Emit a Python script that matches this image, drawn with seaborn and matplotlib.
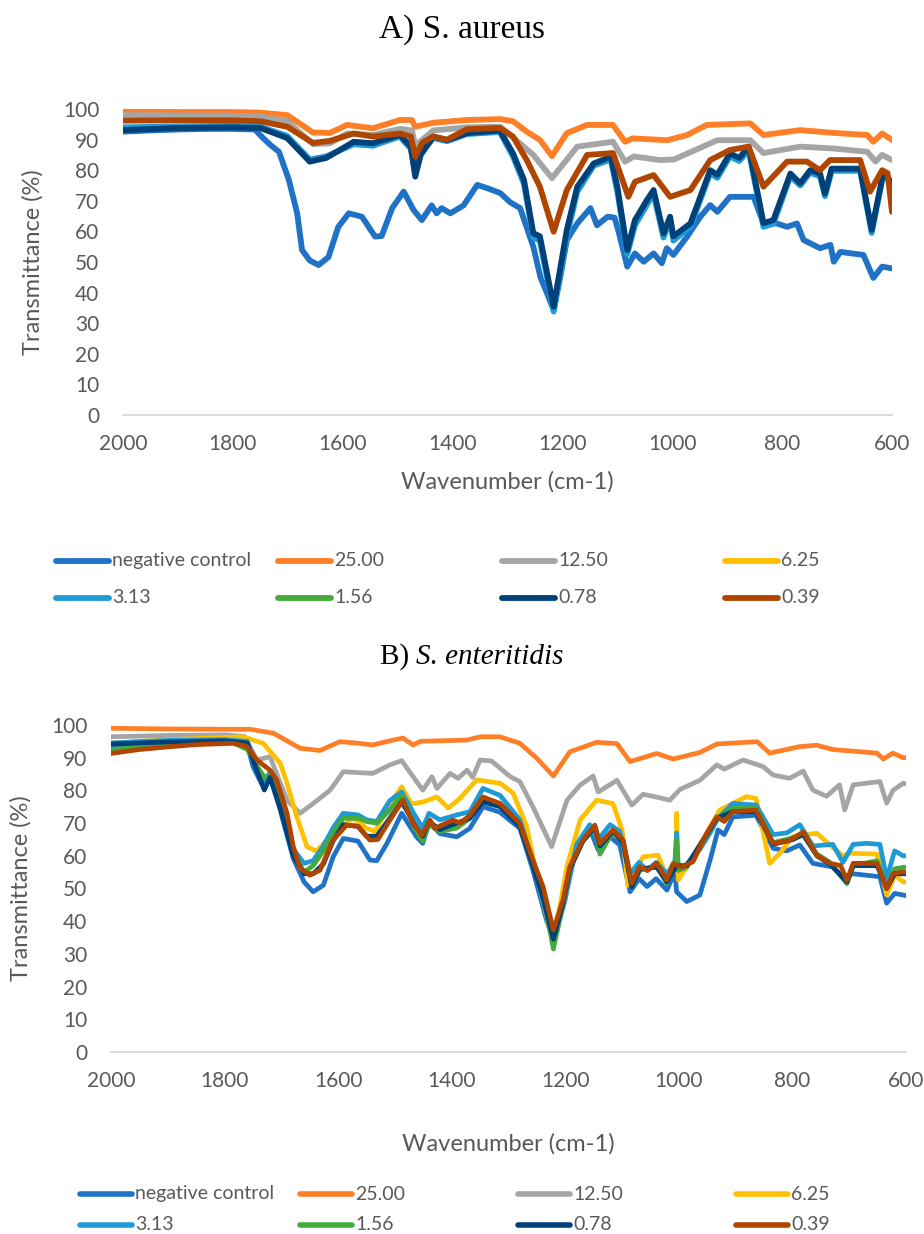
import matplotlib
matplotlib.use("Agg")
import matplotlib.pyplot as plt
from matplotlib.lines import Line2D
import seaborn as sns
import pandas as pd

# ---------------------------------------------------------------- data
LABELS = ["negative control", "25.00", "12.50", "6.25", "3.13", "1.56", "0.78", "0.39"]
COLORS = {
    "negative control": "#1F72C6",
    "25.00": "#FF7F27",
    "12.50": "#A5A5A5",
    "6.25": "#FFC000",
    "3.13": "#1E9BD7",
    "1.56": "#44AA3C",
    "0.78": "#00417A",
    "0.39": "#B04500",
}
X_TICKS = [2000, 1800, 1600, 1400, 1200, 1000, 800, 600]
Y_TICKS = [0, 10, 20, 30, 40, 50, 60, 70, 80, 90, 100]

# A) S. aureus  (wavenumber, transmittance)
a_neg_w = [2000, 1950, 1900, 1850, 1800, 1760, 1745, 1730, 1716, 1698, 1683, 1674, 1660, 1644, 1626,
           1608, 1589, 1565, 1541, 1529, 1510, 1489, 1480, 1471, 1456, 1438, 1429, 1420, 1404, 1380,
           1355, 1335, 1313, 1295, 1277, 1253, 1240, 1228, 1216, 1204, 1192, 1173, 1149, 1137, 1118,
           1105, 1097, 1082, 1068, 1052, 1034, 1019, 1010, 998, 973, 949, 931, 918, 895, 852, 834,
           810, 791, 773, 761, 731, 712, 706, 694, 652, 634, 618, 600]
a_neg_t = [92.6, 93.0, 93.3, 93.5, 93.5, 93.3, 90.5, 88.0, 86.0, 76.8, 66.0, 53.9, 50.5, 49.0, 51.6,
           61.5, 65.9, 64.8, 58.3, 58.5, 67.6, 73.0, 70.0, 67.0, 63.7, 68.5, 65.9, 67.6, 65.9, 68.5,
           75.2, 74.0, 72.5, 69.5, 67.6, 55.0, 45.0, 39.8, 34.3, 45.0, 57.2, 62.6, 67.6, 62.0, 64.8,
           64.5, 59.4, 48.5, 52.8, 50.1, 52.8, 49.6, 54.5, 52.3, 58.3, 64.8, 68.6, 66.4, 71.3, 71.3, 62.6,
           62.6, 61.5, 62.6, 57.2, 54.5, 55.6, 50.1, 53.3, 52.3, 44.8, 48.5, 47.9]

a_250_w = [2000, 1900, 1800, 1750, 1701, 1654, 1623, 1592, 1545, 1496, 1474, 1468, 1435, 1374, 1313,
           1290, 1265, 1241, 1219, 1192, 1155, 1108, 1086, 1072, 1009, 973, 937, 858, 834, 767, 707,
           645, 634, 618, 600]
a_250_t = [99.1, 99.0, 99.0, 98.8, 98.0, 92.3, 92.2, 94.8, 93.7, 96.4, 96.4, 94.2, 95.5, 96.4, 96.7,
           96.0, 92.6, 89.9, 84.6, 92.1, 94.8, 94.8, 89.3, 90.4, 89.8, 91.5, 94.8, 95.3, 91.5, 93.1, 92.2,
           91.5, 89.3, 92.0, 89.9]

a_125_w = [2000, 1900, 1800, 1750, 1701, 1654, 1623, 1592, 1545, 1496, 1474, 1468, 1435, 1374, 1313,
           1253, 1219, 1173, 1108, 1086, 1070, 1022, 997, 918, 858, 834, 767, 707, 645, 630, 618, 600]
a_125_t = [98.0, 97.9, 97.8, 97.5, 96.0, 88.5, 88.8, 92.0, 91.5, 93.5, 93.0, 88.0, 93.0, 94.0, 94.2,
           85.0, 77.4, 87.7, 89.3, 82.8, 84.5, 83.3, 83.5, 89.8, 89.8, 85.6, 87.7, 87.1, 86.0, 82.8, 85.0, 83.3]

a_313_w = [2000, 1900, 1800, 1750, 1701, 1660, 1630, 1580, 1545, 1496, 1476, 1468, 1458, 1435, 1410,
           1374, 1314, 1290, 1270, 1253, 1241, 1216, 1192, 1173, 1143, 1112, 1100, 1082, 1068, 1046,
           1034, 1016, 1004, 998, 967, 931, 918, 895, 878, 861, 834, 816, 785, 767, 749, 731, 722, 710,
           658, 637, 616, 605, 600]
a_313_t = [94.0, 94.3, 94.5, 94.2, 91.2, 83.5, 84.5, 88.5, 88.0, 91.0, 87.0, 79.0, 85.5, 90.5, 89.5,
           91.8, 92.5, 84.5, 75.5, 58.0, 57.0, 33.8, 58.5, 73.0, 81.5, 83.5, 73.0, 52.5, 62.0, 68.8,
           72.2, 58.0, 63.5, 57.0, 61.5, 79.0, 77.5, 84.5, 83.0, 86.5, 61.5, 62.5, 78.0, 75.0, 79.2, 78.0,
           71.5, 79.8, 79.8, 59.5, 78.5, 76.5, 75.5]

a_078_w = [2000, 1900, 1800, 1750, 1701, 1660, 1630, 1580, 1545, 1496, 1476, 1468, 1458, 1435, 1410,
           1374, 1314, 1290, 1270, 1253, 1241, 1216, 1192, 1173, 1143, 1112, 1100, 1082, 1068, 1046,
           1034, 1016, 1004, 998, 967, 931, 918, 895, 878, 861, 834, 816, 785, 767, 749, 731, 722, 710,
           658, 637, 616, 605, 600]
a_078_t = [93.1, 93.8, 94.0, 93.8, 90.5, 82.8, 84.0, 89.3, 88.8, 91.5, 87.7, 77.9, 85.0, 91.0, 89.8,
           92.1, 93.0, 85.5, 76.8, 59.4, 58.4, 35.4, 60.5, 74.6, 82.2, 84.4, 74.6, 53.9, 63.7, 70.3,
           73.5, 59.4, 64.8, 58.4, 62.6, 80.0, 78.5, 85.5, 84.0, 87.7, 62.7, 63.7, 78.9, 75.7, 80.0, 78.9,
           72.4, 80.5, 80.5, 60.5, 79.0, 77.0, 76.0]

a_039_w = [2000, 1900, 1800, 1750, 1701, 1654, 1623, 1580, 1545, 1496, 1476, 1468, 1455, 1435, 1410,
           1374, 1314, 1290, 1265, 1241, 1216, 1192, 1155, 1108, 1080, 1068, 1034, 1004, 967, 931, 895,
           861, 834, 791, 755, 731, 713, 658, 640, 618, 608, 600]
a_039_t = [96.2, 96.3, 96.3, 96.0, 94.2, 88.9, 89.6, 92.0, 91.0, 92.0, 91.0, 84.4, 89.0, 91.0, 90.0,
           93.4, 93.8, 91.0, 83.3, 74.6, 59.9, 73.5, 85.0, 85.6, 71.3, 76.2, 78.4, 71.3, 73.5, 83.3, 86.6,
           87.7, 74.6, 82.8, 82.8, 80.0, 83.3, 83.3, 73.0, 80.0, 79.0, 66.4]

# B) S. enteritidis  (wavenumber, transmittance)
b_neg_w = [2000, 1900, 1800, 1785, 1760, 1750, 1732, 1720, 1702, 1679, 1660, 1644, 1626, 1609, 1591,
           1565, 1544, 1532, 1514, 1488, 1462, 1451, 1440, 1421, 1391, 1368, 1345, 1315, 1280, 1257,
           1233, 1221, 1201, 1180, 1157, 1142, 1121, 1104, 1086, 1070, 1056, 1040, 1021, 1007, 1004, 986,
           963, 945, 931, 920, 905, 864, 834, 810, 787, 764, 729, 711, 693, 646, 634, 620, 605, 600]
b_neg_t = [93.4, 94.3, 95.0, 95.0, 94.0, 87.3, 81.1, 84.4, 74.0, 59.2, 52.0, 49.0, 51.0, 59.6, 65.3,
           64.5, 58.7, 58.5, 63.8, 73.0, 65.8, 63.8, 70.4, 66.8, 65.8, 68.4, 75.0, 73.3, 68.4, 55.6,
           40.3, 34.3, 47.6, 62.8, 68.4, 61.8, 65.8, 63.3, 49.0, 53.0, 50.6, 53.0, 49.5, 55.1, 49.0, 46.0,
           48.0, 58.7, 67.9, 66.5, 71.9, 72.4, 62.3, 61.5, 63.3, 57.7, 56.6, 53.6, 54.5, 53.6, 45.5, 48.5,
           48.0, 47.8]

b_250_w = [2000, 1900, 1800, 1755, 1714, 1667, 1632, 1597, 1570, 1539, 1503, 1486, 1468, 1455, 1373,
           1350, 1315, 1280, 1250, 1221, 1192, 1145, 1109, 1086, 1039, 1010, 963, 933, 862, 840, 787,
           757, 729, 651, 640, 623, 605, 600]
b_250_t = [99.0, 98.8, 98.7, 98.7, 97.5, 92.9, 92.2, 94.9, 94.5, 93.9, 95.4, 96.0, 93.9, 95.0, 95.4,
           96.4, 96.4, 94.4, 89.8, 84.4, 91.8, 94.7, 94.3, 88.8, 91.3, 89.6, 91.6, 94.2, 94.9, 91.4, 93.4,
           93.8, 92.5, 91.4, 89.6, 91.4, 90.0, 90.0]

b_125_w = [2000, 1900, 1800, 1765, 1743, 1720, 1690, 1667, 1644, 1614, 1591, 1539, 1509, 1488, 1468,
           1451, 1435, 1426, 1403, 1389, 1373, 1363, 1350, 1330, 1297, 1280, 1257, 1224, 1197, 1174,
           1151, 1142, 1109, 1083, 1063, 1040, 1016, 998, 963, 933, 920, 887, 852, 834, 805, 781, 764,
           740, 717, 708, 693, 646, 634, 623, 605, 600]
b_125_t = [96.4, 96.8, 97.0, 96.5, 89.3, 90.3, 77.0, 73.0, 76.0, 80.1, 85.7, 85.2, 87.8, 89.1, 84.2,
           80.1, 84.2, 80.6, 85.2, 83.7, 86.2, 84.0, 89.3, 89.0, 84.2, 82.7, 75.0, 62.8, 77.0, 81.6,
           84.4, 79.5, 83.1, 75.5, 78.8, 78.0, 77.0, 80.3, 83.1, 87.8, 86.5, 89.3, 87.3, 84.7, 83.7, 85.9,
           80.1, 78.2, 81.7, 74.0, 81.7, 82.7, 76.1, 80.0, 82.2, 82.0]

b_625_w = [2000, 1900, 1800, 1767, 1732, 1702, 1690, 1673, 1655, 1638, 1609, 1574, 1550, 1535, 1509,
           1488, 1471, 1450, 1426, 1406, 1386, 1356, 1315, 1292, 1268, 1250, 1221, 1197, 1174, 1145,
           1116, 1100, 1090, 1063, 1037, 1021, 1005, 1004, 1001, 986, 951, 928, 881, 864, 840, 822, 799,
           757, 734, 711, 699, 651, 634, 620, 605, 600]
b_625_t = [94.4, 95.5, 96.2, 96.4, 94.4, 88.3, 82.2, 72.0, 62.8, 61.4, 66.9, 71.5, 68.4, 67.5, 75.9,
           81.1, 75.9, 76.5, 78.0, 74.6, 77.5, 83.2, 82.2, 79.2, 69.0, 53.6, 33.2, 56.7, 70.9, 77.0,
           76.0, 67.9, 51.0, 59.7, 60.2, 53.6, 56.0, 73.0, 52.6, 56.7, 66.9, 74.0, 78.1, 77.5, 57.7, 60.8,
           65.9, 66.9, 63.3, 60.0, 60.8, 60.5, 48.0, 54.0, 52.0, 52.0]

b_313_w = [2000, 1900, 1800, 1760, 1745, 1730, 1720, 1702, 1679, 1660, 1644, 1626, 1609, 1591, 1565,
           1550, 1532, 1509, 1488, 1465, 1451, 1440, 1421, 1391, 1368, 1345, 1315, 1280, 1257, 1233,
           1221, 1201, 1180, 1157, 1142, 1121, 1104, 1086, 1070, 1056, 1040, 1021, 1007, 1004, 1001, 986,
           963, 945, 931, 905, 864, 834, 810, 787, 764, 729, 711, 693, 669, 646, 634, 620, 605, 600]
b_313_t = [94.5, 95.3, 95.5, 95.0, 88.0, 83.0, 85.5, 77.0, 62.0, 57.7, 58.5, 63.0, 68.5, 73.0, 72.5,
           71.0, 70.5, 76.9, 79.5, 72.4, 68.5, 73.0, 71.0, 72.5, 73.5, 80.6, 78.5, 71.0, 58.0, 42.0,
           34.0, 46.0, 63.5, 69.5, 65.0, 69.5, 67.5, 54.5, 58.0, 55.5, 58.0, 54.5, 58.0, 67.0, 56.0, 57.5,
           62.0, 67.0, 71.5, 76.0, 75.5, 66.5, 67.0, 69.5, 63.0, 63.5, 58.0, 63.5, 63.8, 63.5, 53.0, 61.5,
           60.0, 60.0]

b_156_w = [2000, 1900, 1800, 1785, 1760, 1745, 1730, 1720, 1702, 1679, 1660, 1644, 1626, 1609, 1591,
           1565, 1550, 1532, 1509, 1488, 1465, 1451, 1440, 1421, 1391, 1368, 1345, 1315, 1280, 1257,
           1239, 1221, 1204, 1192, 1169, 1148, 1139, 1116, 1098, 1083, 1069, 1039, 1021, 1007, 1004,
           1001, 986, 951, 933, 905, 864, 834, 799, 781, 757, 734, 704, 693, 651, 634, 620, 605, 600]
b_156_t = [92.5, 93.8, 94.7, 94.6, 92.5, 88.0, 84.0, 84.5, 76.0, 61.0, 55.0, 57.0, 61.5, 67.0, 71.5,
           71.5, 70.5, 70.0, 74.0, 78.5, 68.5, 64.5, 69.5, 67.5, 68.5, 71.5, 77.5, 76.0, 69.5, 57.0,
           48.5, 31.5, 45.0, 56.0, 64.5, 68.5, 60.5, 67.5, 64.0, 50.5, 55.5, 57.0, 51.5, 57.0, 65.0,
           55.5, 56.5, 66.5, 71.5, 74.5, 74.5, 64.0, 65.5, 66.5, 60.5, 58.0, 51.5, 57.0, 58.5, 50.0, 56.0,
           56.5, 56.5]

b_078_w = [2000, 1900, 1800, 1760, 1745, 1730, 1720, 1702, 1679, 1660, 1644, 1626, 1609, 1591, 1565,
           1550, 1532, 1509, 1488, 1465, 1451, 1440, 1421, 1391, 1368, 1345, 1315, 1280, 1257, 1239,
           1221, 1204, 1192, 1169, 1148, 1139, 1116, 1098, 1083, 1069, 1039, 1021, 1004, 986, 951, 933,
           905, 864, 834, 799, 781, 757, 734, 704, 693, 651, 634, 620, 605, 600]
b_078_t = [94.2, 94.8, 95.2, 94.5, 87.0, 80.1, 84.0, 74.5, 60.0, 54.5, 54.5, 57.5, 64.5, 69.5, 69.0,
           66.0, 66.0, 71.5, 76.5, 69.5, 66.0, 70.5, 68.0, 70.0, 71.5, 76.5, 75.0, 69.0, 57.0, 47.0,
           34.5, 45.5, 56.0, 64.5, 68.8, 63.0, 67.5, 64.0, 50.5, 56.0, 56.5, 52.0, 57.0, 57.0, 66.5, 71.5,
           73.5, 73.5, 63.5, 65.0, 66.5, 60.0, 57.5, 52.0, 57.0, 57.0, 50.0, 54.5, 54.5, 54.5]

b_039_w = [2000, 1950, 1900, 1850, 1785, 1761, 1743, 1720, 1708, 1690, 1679, 1667, 1650, 1632, 1609,
           1585, 1565, 1544, 1530, 1509, 1486, 1468, 1453, 1438, 1430, 1398, 1385, 1368, 1345, 1315,
           1280, 1257, 1239, 1221, 1204, 1192, 1169, 1148, 1139, 1116, 1098, 1083, 1069, 1055, 1039,
           1021, 1010, 995, 975, 951, 933, 920, 905, 864, 834, 810, 799, 781, 757, 734, 715, 704, 693,
           651, 634, 623, 605, 600]
b_039_t = [91.3, 92.5, 93.3, 94.0, 94.4, 93.5, 89.3, 86.2, 83.1, 73.0, 62.8, 56.2, 54.1, 55.6, 64.8,
           69.4, 69.0, 64.8, 65.0, 70.9, 77.0, 69.9, 66.3, 70.9, 68.4, 70.9, 70.0, 72.4, 78.0, 76.0,
           69.9, 58.7, 50.5, 37.3, 46.5, 56.7, 64.8, 69.4, 63.8, 67.9, 64.8, 51.6, 56.7, 55.5, 57.7,
           52.6, 57.7, 56.5, 58.2, 66.9, 71.9, 70.5, 73.5, 74.0, 63.8, 64.5, 65.3, 67.3, 60.2, 57.7, 57.0,
           52.5, 57.7, 57.7, 50.0, 54.6, 55.1, 55.0]

PANEL_A = {
    "negative control": (a_neg_w, a_neg_t),
    "25.00": (a_250_w, a_250_t),
    "12.50": (a_125_w, a_125_t),
    "3.13": (a_313_w, a_313_t),
    "0.78": (a_078_w, a_078_t),
    "0.39": (a_039_w, a_039_t),
}
PANEL_B = {
    "negative control": (b_neg_w, b_neg_t),
    "25.00": (b_250_w, b_250_t),
    "12.50": (b_125_w, b_125_t),
    "6.25": (b_625_w, b_625_t),
    "3.13": (b_313_w, b_313_t),
    "1.56": (b_156_w, b_156_t),
    "0.78": (b_078_w, b_078_t),
    "0.39": (b_039_w, b_039_t),
}

# ---------------------------------------------------------------- style
sns.set_theme(style="white")
plt.rcParams["font.family"] = ["Lato", "DejaVu Sans"]
plt.rcParams["lines.solid_joinstyle"] = "round"
plt.rcParams["lines.solid_capstyle"] = "round"
TXT = "#595959"
W, H = 924, 1234

fig = plt.figure(figsize=(W / 100, H / 100), dpi=100)


def px_axes(left, right, top, bottom):
    return fig.add_axes([left / W, 1 - bottom / H, (right - left) / W, (bottom - top) / H])


def to_long(panel):
    rows = []
    for name, (ws, ts) in panel.items():
        for w, t in zip(ws, ts):
            rows.append((name, w, t))
    return pd.DataFrame(rows, columns=["series", "wavenumber", "transmittance"])


def draw_panel(ax, panel, lw):
    df = to_long(panel)
    order = [s for s in LABELS if s in panel]
    sns.lineplot(data=df, x="wavenumber", y="transmittance", hue="series", hue_order=order,
                 palette=COLORS, estimator=None, linewidth=lw, legend=False, ax=ax)
    ax.set_xlim(2000, 600)
    ax.set_ylim(0, 100)
    ax.set_xticks(X_TICKS)
    ax.set_yticks(Y_TICKS)
    ax.set_xticklabels([str(v) for v in X_TICKS])
    ax.set_yticklabels([str(v) for v in Y_TICKS])
    for side in ("top", "left", "right"):
        ax.spines[side].set_visible(False)
    ax.spines["bottom"].set_color("#D9D9D9")
    ax.spines["bottom"].set_linewidth(1.3)
    ax.tick_params(axis="both", length=0, labelsize=15, labelcolor=TXT)
    ax.tick_params(axis="y", pad=17)
    ax.tick_params(axis="x", pad=14)
    ax.grid(False)
    ax.set_facecolor("white")


def draw_legend(x_starts, rows_y, handle_len, lw):
    order = [["negative control", "25.00", "12.50", "6.25"], ["3.13", "1.56", "0.78", "0.39"]]
    for r, row in enumerate(order):
        y = 1 - rows_y[r] / H
        for c, name in enumerate(row):
            x0 = x_starts[c]
            fig.add_artist(Line2D([x0 / W, (x0 + handle_len) / W], [y, y], transform=fig.transFigure,
                                  color=COLORS[name], lw=lw, solid_capstyle="round"))
            fig.text((x0 + handle_len + 3) / W, y, name, ha="left", va="center",
                     fontsize=14, color=TXT)


# ---------------------------------------------------------------- panel A
axA = px_axes(123, 892, 109, 415)
draw_panel(axA, PANEL_A, 4.2)
axA.set_xlabel("Wavenumber (cm-1)", fontsize=17, color=TXT, labelpad=12)
axA.set_ylabel("Transmittance (%)", fontsize=17, color=TXT, labelpad=14)
fig.text(0.5, 1 - 30 / H, "A) S. aureus", ha="center", va="center",
         fontsize=24, family="Liberation Serif", color="black")
draw_legend([56, 278, 502, 725], [561, 598], 53, 4.2)

# ---------------------------------------------------------------- panel B
axB = px_axes(111, 906, 725, 1052)
draw_panel(axB, PANEL_B, 3.4)
axB.set_xlabel("Wavenumber (cm-1)", fontsize=17, color=TXT, labelpad=30)
axB.set_ylabel("Transmittance (%)", fontsize=17, color=TXT, labelpad=14)
fig.text(380 / W, 1 - 657 / H, "B) ", ha="left", va="center",
         fontsize=21, family="Liberation Serif", color="black")
fig.text(416 / W, 1 - 657 / H, "S. enteritidis", ha="left", va="center",
         fontsize=21, family="Liberation Serif", style="italic", color="black")
draw_legend([80, 300, 518, 736], [1194, 1225], 52, 4.0)

fig.savefig("out.png", dpi=100, facecolor="white")
